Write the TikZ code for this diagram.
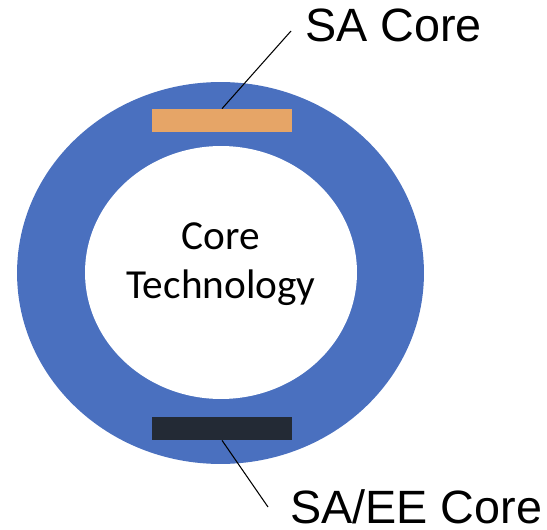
\documentclass[tikz,border=0pt]{standalone}
\usepackage{fontspec}
\setmainfont{Liberation Sans}
\newfontfamily\calibri{Carlito}
\usetikzlibrary{shapes.geometric}
\definecolor{ring}{HTML}{4A70BF}
\definecolor{sacore}{HTML}{E6A567}
\definecolor{eecore}{HTML}{232A35}

\begin{document}
\begin{tikzpicture}[x=0.02cm, y=-0.02cm]
\useasboundingbox (0, 0) rectangle (547, 530);
\node [ellipse, fill=ring, inner sep=0, minimum width=8.14cm, minimum height=7.64cm] (outer) at (220.5, 273) {};
\node [ellipse, fill=white, inner sep=0, minimum width=5.44cm, minimum height=5.06cm] (inner) at (221, 272.5) {};
\node [align=center, font=\calibri\fontsize{23.5}{27.5}\selectfont] (tech) at (221, 264) {Core\\Technology};
\node [fill=sacore, inner sep=0, minimum width=2.8cm, minimum height=0.46cm] (sa) at (222, 120.5) {};
\node [fill=eecore, inner sep=0, minimum width=2.8cm, minimum height=0.46cm] (ee) at (222, 428.5) {};
\node [anchor=base west, inner sep=0, font=\fontsize{26.6}{32}\selectfont] (salabel) at (305, 42) {SA Core};
\node [anchor=base west, inner sep=0, font=\fontsize{26.6}{32}\selectfont] (eelabel) at (290, 523) {SA/EE Core};
\coordinate (saend) at (291, 31);
\coordinate (eeend) at (268, 507);
\draw [line width=0.6pt] (sa.north) -- (saend);
\draw [line width=0.6pt] (ee.south) -- (eeend);
\end{tikzpicture}
\end{document}
